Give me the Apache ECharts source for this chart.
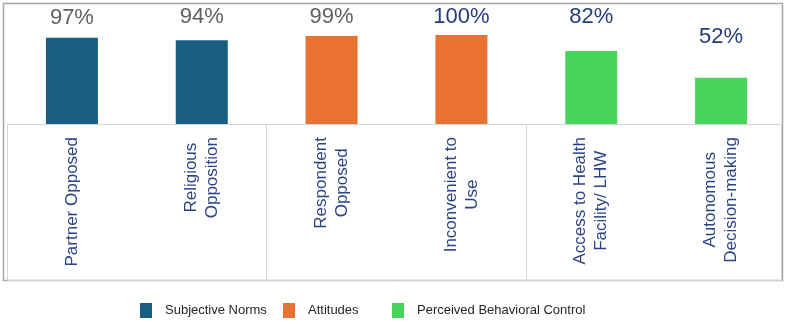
<!DOCTYPE html>
<html>
<head>
<meta charset="utf-8">
<script src="https://cdn.jsdelivr.net/npm/echarts@6/dist/echarts.min.js"></script>
<style>
  html, body { margin: 0; padding: 0; background: #fff; }
  #chart { width: 786px; height: 324px; }
</style>
</head>
<body>
<div id="chart"></div>
<script>
// data
const categories = [
  'Partner Opposed',
  'Religious\nOpposition',
  'Respondent\nOpposed',
  'Inconvenient to\nUse',
  'Access to Health\nFacility/ LHW',
  'Autonomous\nDecision-making'
]
const groups = ['Subjective Norms', 'Attitudes', 'Perceived Behavioral Control']
const values = [97, 94, 99, 100, 82, 52]
const groupOf = [0, 0, 1, 1, 2, 2]

// styles
const groupColors = ['#175e82', '#e97132', '#47d45a']
const labelColors = ['#606060', '#606060', '#606060', '#243c7c', '#243c7c', '#243c7c']
const labelGap = [9, 12, 8, 7, 23, 30]
const legendLeft = [135, 278, 387]

const chart = echarts.init(document.getElementById('chart'))

const series = groups.map((name, g) => ({
  name: name,
  type: 'bar',
  stack: 'all',
  barWidth: 52,
  itemStyle: { color: groupColors[g] },
  label: {
    show: true,
    position: 'top',
    fontSize: 22,
    fontFamily: 'Liberation Sans, Arial, sans-serif',
    formatter: p => p.value + '%'
  },
  data: values.map((v, i) => groupOf[i] === g
    ? { value: v, label: { color: labelColors[i], distance: labelGap[i] } }
    : '-')
}))

const option = {
  animation: false,
  backgroundColor: '#fff',
  grid: { left: 7, top: 35, width: 780, height: 89, containLabel: false },
  legend: groups.map((name, g) => ({
    data: [name],
    left: legendLeft[g],
    top: 298,
    icon: 'rect',
    itemWidth: 12,
    itemHeight: 15,
    selectedMode: false,
    textStyle: {
      fontSize: 13,
      color: '#262626',
      fontFamily: 'Liberation Sans, Arial, sans-serif',
      padding: [0, 0, 0, 8]
    }
  })),
  xAxis: {
    type: 'category',
    data: categories,
    axisLine: { show: false },
    axisTick: {
      show: true,
      length: 156,
      interval: i => i === 2 || i === 4,
      lineStyle: { color: '#d4d4d4' }
    },
    axisLabel: {
      interval: 0,
      rotate: 90,
      margin: 13,
      formatter: v => v.split('\n').map(s => '{c|' + s + '}').join('\n'),
      rich: {
        c: {
          align: 'center',
          fontSize: 17,
          lineHeight: 21,
          color: '#2b4385',
          fontFamily: 'Liberation Sans, Arial, sans-serif'
        }
      }
    }
  },
  yAxis: {
    type: 'value',
    min: 0,
    max: 100,
    show: false
  },
  graphic: [
    {
      type: 'rect',
      z: -1,
      shape: { x: 3.5, y: 3.5, width: 779, height: 277 },
      style: { fill: 'none', stroke: '#a8a8a8', lineWidth: 1.5 }
    },
    {
      type: 'rect',
      z: -1,
      shape: { x: 7.5, y: 124.5, width: 774, height: 156 },
      style: { fill: 'none', stroke: '#d4d4d4', lineWidth: 1 }
    }
  ],
  series: series
}

chart.setOption(option)
</script>
</body>
</html>
